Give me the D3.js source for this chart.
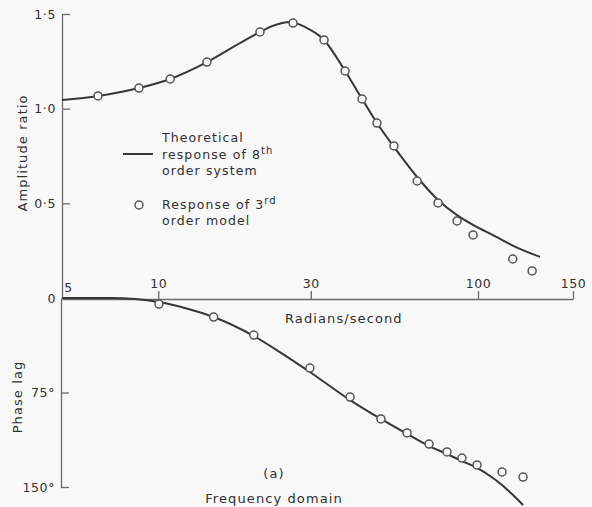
<!DOCTYPE html>
<html>
<head>
<meta charset="utf-8">
<script src="https://cdn.jsdelivr.net/npm/d3@7"></script>
<style>
  html, body { margin: 0; padding: 0; background: #f8f8f8; }
  svg { display: block; }
  text { font-family: "DejaVu Sans", sans-serif; fill: #303030; }
</style>
</head>
<body>
<svg id="chart" width="592" height="507"></svg>
<script>
// Frequency response: amplitude ratio and phase lag against frequency (rad/s)

// Theoretical response of 8th order system (solid curves)
const ampCurveFreq = [5, 6.48, 8.7, 10.9, 14.2, 18.0, 20.8, 23.2, 25.8, 28.8, 33.0, 38.4, 43.4, 48.3, 54.6, 64.5, 75.0, 86.0, 96.5, 107.5, 116, 130.3];
const ampCurveVal  = [1.046, 1.067, 1.109, 1.157, 1.246, 1.346, 1.405, 1.442, 1.458, 1.431, 1.363, 1.199, 1.051, 0.924, 0.798, 0.639, 0.518, 0.438, 0.386, 0.327, 0.277, 0.217];

const phaseCurveFreq = [5, 7.07, 8.46, 10.05, 12.1, 14.9, 19.9, 24.0, 29.8, 39.8, 49.7, 60.0, 70.3, 80.0, 89.1, 99.3, 105.3, 110.8, 115.6, 121.2];
const phaseCurveVal  = [0, 0, 0.8, 3.2, 7.9, 15.1, 30.2, 42.9, 58.7, 81.0, 96.0, 107.9, 117.5, 123.8, 129.4, 134.9, 141.3, 148.4, 155.6, 164.3];

// Response of 3rd order model (circles)
const ampPointFreq = [6.48, 8.7, 10.9, 14.2, 20.8, 26.4, 33.0, 38.4, 43.4, 48.3, 54.6, 64.5, 75.0, 86.0, 96.5, 116, 126];
const ampPointVal  = [1.067, 1.109, 1.157, 1.246, 1.405, 1.452, 1.363, 1.199, 1.051, 0.924, 0.803, 0.618, 0.502, 0.407, 0.333, 0.206, 0.143];

const phasePointFreq = [10.05, 14.9, 19.9, 29.8, 39.8, 49.7, 60.0, 70.3, 80.0, 89.1, 99.3, 110.8, 121.2];
const phasePointVal  = [4.8, 15.1, 29.4, 55.6, 78.6, 96.0, 107.1, 115.9, 122.2, 127.0, 132.5, 138.1, 142.1];

// Axis ticks
const freqTicks = [5, 10, 30, 100, 150];
const ampTicks = [0, 0.5, 1.0, 1.5];
const ampTickLabels = ["0", "0·5", "1·0", "1·5"];
const phaseTicks = [75, 150];
const phaseTickLabels = ["75°", "150°"];

const svg = d3.select("#chart");
const ink = "#363636";
const axisInk = "#6a6a6a";
const font = "DejaVu Sans, sans-serif";

// Log frequency axis (piecewise between the labelled decades)
const x = d3.scaleLog().domain([5, 100, 150]).range([62, 478, 573]);
const yAmp = d3.scaleLinear().domain([0, 1.5]).range([298, 14]);
const yPhase = d3.scaleLinear().domain([0, 150]).range([298, 487]);

const styleTickText = g => g.selectAll("text")
  .attr("font-size", 12.5).attr("fill", "#303030").attr("font-family", font)
  .attr("letter-spacing", 0.6);

// Frequency axis along the zero line, ticks pointing up
const xAxis = d3.axisTop(x).tickValues(freqTicks).tickFormat(d3.format("d"))
  .tickSize(8).tickSizeOuter(0).tickPadding(3);
const gx = svg.append("g").attr("transform", "translate(0,299)").call(xAxis).call(styleTickText);
gx.selectAll(".tick").filter(d => d === 5).select("line").remove();
gx.selectAll(".tick").filter(d => d === 5).select("text").attr("x", 6).attr("y", -7);

// Amplitude axis, ticks pointing inward
const yAmpAxis = d3.axisLeft(yAmp).tickValues(ampTicks)
  .tickFormat((d, i) => ampTickLabels[i]).tickSize(-8).tickSizeOuter(0).tickPadding(6);
const ga = svg.append("g").attr("transform", "translate(62,0)").call(yAmpAxis).call(styleTickText);
ga.selectAll(".tick").filter(d => d === 0).select("line").remove();

// Phase axis below the zero line
const yPhaseAxis = d3.axisLeft(yPhase).tickValues(phaseTicks)
  .tickFormat((d, i) => phaseTickLabels[i]).tickSize(-8).tickSizeOuter(0).tickPadding(6);
svg.append("g").attr("transform", "translate(61,0)").call(yPhaseAxis).call(styleTickText);

svg.selectAll(".domain, .tick line").attr("stroke", axisInk).attr("stroke-width", 1.3);

// Curves
const ampLine = d3.line().x(d => x(d[0])).y(d => yAmp(d[1])).curve(d3.curveMonotoneX);
const phaseLine = d3.line().x(d => x(d[0])).y(d => yPhase(d[1])).curve(d3.curveMonotoneX);

svg.append("path")
  .attr("d", ampLine(d3.zip(ampCurveFreq, ampCurveVal)))
  .attr("fill", "none").attr("stroke", ink).attr("stroke-width", 2);
svg.append("path")
  .attr("d", phaseLine(d3.zip(phaseCurveFreq, phaseCurveVal)))
  .attr("fill", "none").attr("stroke", ink).attr("stroke-width", 2);

// Model points
const circleStyle = sel => sel.attr("r", 4).attr("fill", "#f8f8f8")
  .attr("stroke", "#555").attr("stroke-width", 1.5);
svg.append("g").selectAll("circle").data(d3.zip(ampPointFreq, ampPointVal)).join("circle")
  .attr("cx", d => x(d[0])).attr("cy", d => yAmp(d[1])).call(circleStyle);
svg.append("g").selectAll("circle").data(d3.zip(phasePointFreq, phasePointVal)).join("circle")
  .attr("cx", d => x(d[0])).attr("cy", d => yPhase(d[1])).call(circleStyle);

// Axis titles
const title = (sel) => sel.attr("font-size", 13).attr("letter-spacing", 1.1);
svg.append("text").attr("transform", "translate(27,153) rotate(-90)")
  .attr("text-anchor", "middle").call(title).text("Amplitude ratio");
svg.append("text").attr("transform", "translate(22,397) rotate(-90)")
  .attr("text-anchor", "middle").call(title).text("Phase lag");
svg.append("text").attr("x", 285).attr("y", 323).call(title).text("Radians/second");
svg.append("text").attr("x", 274).attr("y", 478).attr("text-anchor", "middle").call(title).text("(a)");
svg.append("text").attr("x", 274).attr("y", 503).attr("text-anchor", "middle").call(title).text("Frequency domain");

// Legend
const leg = svg.append("g").attr("font-size", 12.5).attr("letter-spacing", 1.1);
leg.append("line").attr("x1", 123).attr("x2", 153).attr("y1", 154).attr("y2", 154)
  .attr("stroke", ink).attr("stroke-width", 2);
leg.append("text").attr("x", 162).attr("y", 142).text("Theoretical");
const t2 = leg.append("text").attr("x", 162).attr("y", 159).text("response of 8");
t2.append("tspan").attr("baseline-shift", "super").attr("font-size", 10).text("th");
leg.append("text").attr("x", 162).attr("y", 175).text("order system");
leg.append("circle").attr("cx", 139).attr("cy", 205).call(circleStyle);
const t4 = leg.append("text").attr("x", 162).attr("y", 209).text("Response of 3");
t4.append("tspan").attr("baseline-shift", "super").attr("font-size", 10).text("rd");
leg.append("text").attr("x", 162).attr("y", 225).text("order model");
</script>
</body>
</html>
